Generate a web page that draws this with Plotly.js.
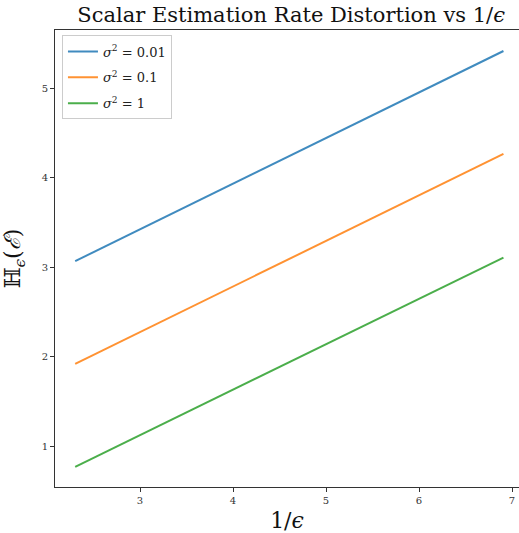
<!DOCTYPE html>
<html>
<head>
<meta charset="utf-8">
<script src="https://cdn.plot.ly/plotly-3.0.1.min.js"></script>
<style>
  html, body { margin: 0; padding: 0; background: #fff; }
  #chart { width: 519px; height: 533px; }
</style>
</head>
<body>
<div id="chart"></div>
<script>
// Rate distortion of scalar estimation, one line per noise variance
const invEps = [2.303, 6.908];
const seriesNames = ['<i>σ</i><sup>2</sup> = 0.01', '<i>σ</i><sup>2</sup> = 0.1', '<i>σ</i><sup>2</sup> = 1'];
const rateSigma001 = [3.07, 5.42];
const rateSigma01 = [1.92, 4.27];
const rateSigma1 = [0.77, 3.11];
const seriesColors = ['#1f77b4', '#ff7f0e', '#2ca02c'];
const xTicks = [3, 4, 5, 6, 7];
const yTicks = [1, 2, 3, 4, 5];

const serif = 'DejaVu Serif, Liberation Serif, serif';
const values = [rateSigma001, rateSigma01, rateSigma1];

const traces = values.map((y, i) => ({
  x: invEps,
  y: y,
  type: 'scatter',
  mode: 'lines',
  name: seriesNames[i],
  legendgroup: 'g' + i,
  opacity: 0.85,
  line: { color: seriesColors[i], width: 2 }
}));

const layout = {
  width: 519,
  height: 533,
  margin: { l: 55, r: 0, t: 30, b: 46 },
  paper_bgcolor: '#fff',
  plot_bgcolor: '#fff',
  font: { family: serif, color: '#222' },
  title: {
    text: 'Scalar Estimation Rate Distortion vs 1/<i>ϵ</i>',
    font: { family: serif, size: 21, color: '#111' },
    x: 0.561, xanchor: 'center', y: 0.972, yanchor: 'middle'
  },
  xaxis: {
    range: [2.086, 7.075],
    tickvals: xTicks,
    ticks: 'outside', ticklen: 4, tickcolor: '#333',
    tickfont: { size: 10, color: '#333' },
    showline: true, linecolor: '#333', linewidth: 1, mirror: true,
    showgrid: false, zeroline: false,
    title: { text: '1/<i>ϵ</i>', font: { size: 22, color: '#111' }, standoff: 8 }
  },
  yaxis: {
    range: [0.544, 5.655],
    tickvals: yTicks,
    ticks: 'outside', ticklen: 4, tickcolor: '#333',
    tickfont: { size: 10, color: '#333' },
    showline: true, linecolor: '#333', linewidth: 1, mirror: false,
    showgrid: false, zeroline: false,
    title: { text: 'ℍ<sub><i>ϵ</i></sub>(<i>ℰ</i>)', font: { size: 22, color: '#111' }, standoff: 14 }
  },
  showlegend: true,
  legend: {
    x: 0.015, y: 0.988, xanchor: 'left', yanchor: 'top',
    bgcolor: 'rgba(255,255,255,0.8)',
    bordercolor: '#ccc', borderwidth: 1,
    font: { family: serif, size: 13, color: '#222' },
    itemwidth: 30,
    tracegroupgap: 6
  }
};

Plotly.newPlot('chart', traces, layout, { displayModeBar: false, staticPlot: true });
</script>
</body>
</html>
